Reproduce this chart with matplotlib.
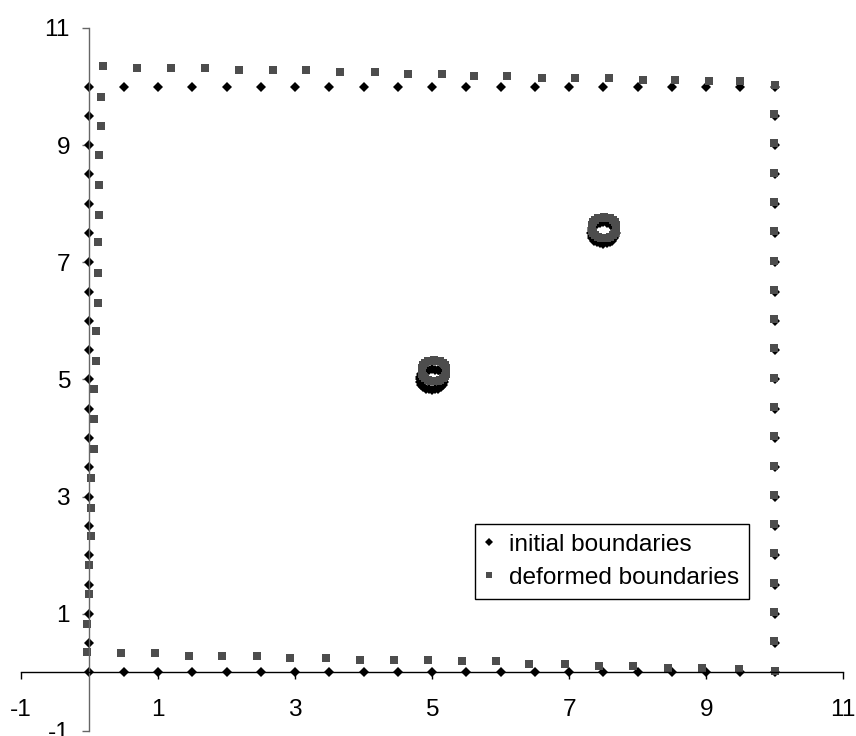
import matplotlib
matplotlib.use("Agg")
import matplotlib.pyplot as plt
import numpy as np

plt.rcParams['font.family'] = ['Liberation Sans', 'DejaVu Sans']

# initial boundaries: square 0..10 sampled every 0.5
init_left_y = [0, 0.5, 1, 1.5, 2, 2.5, 3, 3.5, 4, 4.5, 5, 5.5, 6, 6.5, 7, 7.5, 8, 8.5, 9, 9.5, 10]
init_top_x = [0.5, 1, 1.5, 2, 2.5, 3, 3.5, 4, 4.5, 5, 5.5, 6, 6.5, 7, 7.5, 8, 8.5, 9, 9.5, 10]
init_right_y = [0.5, 1, 1.5, 2, 2.5, 3, 3.5, 4, 4.5, 5, 5.5, 6, 6.5, 7, 7.5, 8, 8.5, 9, 9.5]
init_bottom_x = [0.5, 1, 1.5, 2, 2.5, 3, 3.5, 4, 4.5, 5, 5.5, 6, 6.5, 7, 7.5, 8, 8.5, 9, 9.5, 10]

# deformed boundaries
def_left_x = [-0.03, -0.03, 0.0, 0.0, 0.02, 0.02, 0.02, 0.06, 0.06, 0.06, 0.09,
              0.09, 0.12, 0.12, 0.12, 0.14, 0.14, 0.14, 0.17, 0.17, 0.20]
def_left_y = [0.35, 0.83, 1.34, 1.83, 2.33, 2.81, 3.32, 3.81, 4.32, 4.83, 5.32,
              5.83, 6.31, 6.81, 7.34, 7.81, 8.32, 8.84, 9.32, 9.83, 10.35]
def_top_x = [0.69, 1.19, 1.68, 2.18, 2.68, 3.16, 3.66, 4.16, 4.65, 5.14,
             5.61, 6.10, 6.60, 7.09, 7.58, 8.08, 8.54, 9.04, 9.50, 10.0]
def_top_y = [10.31, 10.31, 10.31, 10.28, 10.28, 10.28, 10.25, 10.25, 10.21, 10.21,
             10.18, 10.18, 10.14, 10.14, 10.14, 10.11, 10.12, 10.09, 10.09, 10.03]
def_right_x = 9.99
def_right_y = [0.53, 1.03, 1.53, 2.03, 2.53, 3.03, 3.53, 4.03, 4.53, 5.03,
               5.53, 6.03, 6.53, 7.03, 7.53, 8.03, 8.53, 9.03, 9.53]
def_bottom_x = [0.46, 0.95, 1.45, 1.94, 2.44, 2.93, 3.45, 3.95, 4.45, 4.94,
                5.43, 5.93, 6.42, 6.94, 7.44, 7.93, 8.45, 8.94, 9.48, 10.0]
def_bottom_y = [0.33, 0.33, 0.28, 0.28, 0.28, 0.25, 0.25, 0.22, 0.22, 0.22,
                0.19, 0.19, 0.15, 0.15, 0.11, 0.11, 0.08, 0.08, 0.05, 0.02]

# inclusions: ring of points around each centre
ring_dx = [0.18, 0.17, 0.16, 0.13, 0.09, 0.05, 0.0, -0.05, -0.09, -0.13, -0.16, -0.17,
           -0.18, -0.17, -0.16, -0.13, -0.09, -0.05, 0.0, 0.05, 0.09, 0.13, 0.16, 0.17]
ring_dy = [0.0, 0.05, 0.09, 0.13, 0.16, 0.17, 0.18, 0.17, 0.16, 0.13, 0.09, 0.05,
           0.0, -0.05, -0.09, -0.13, -0.16, -0.17, -0.18, -0.17, -0.16, -0.13, -0.09, -0.05]
init_centres = [(5.0, 5.0), (7.5, 7.5)]
def_centres = [(5.03, 5.15), (7.51, 7.59)]

ticks = [-1, 1, 3, 5, 7, 9, 11]


def collect(left_x, left_y, top_x, top_y, right_x, right_y, bottom_x, bottom_y, centres):
    xs = list(np.broadcast_to(left_x, len(left_y))) + list(top_x) \
        + list(np.broadcast_to(right_x, len(right_y))) + list(bottom_x)
    ys = list(left_y) + list(np.broadcast_to(top_y, len(top_x))) \
        + list(right_y) + list(np.broadcast_to(bottom_y, len(bottom_x)))
    for cx, cy in centres:
        xs += [cx + d for d in ring_dx]
        ys += [cy + d for d in ring_dy]
    return xs, ys


ix, iy = collect(0.0, init_left_y, init_top_x, 10.0, 10.0, init_right_y, init_bottom_x, 0.0, init_centres)
dx, dy = collect(def_left_x, def_left_y, def_top_x, def_top_y, def_right_x, def_right_y,
                 def_bottom_x, def_bottom_y, def_centres)

fig = plt.figure(figsize=(8.56, 7.36), dpi=100)
ax = fig.add_axes([0.0245, 0.0068, 0.9605, 0.9552])

ax.plot(ix, iy, linestyle='none', marker='D', markersize=4.8, color='black',
        markeredgewidth=0, label='initial boundaries', clip_on=False)
ax.plot(dx, dy, linestyle='none', marker='s', markersize=5.5, color='#4d4d4d',
        markeredgewidth=0, label='deformed boundaries', clip_on=False)

ax.set_xlim(-1, 11)
ax.set_ylim(-1, 11)
ax.set_xticks(ticks)
ax.set_yticks(ticks)
ax.set_xticklabels([str(t) for t in ticks])
ax.set_yticklabels([str(t) for t in ticks])

ax.spines['left'].set_position(('data', 0))
ax.spines['bottom'].set_position(('data', 0))
ax.spines['top'].set_visible(False)
ax.spines['right'].set_visible(False)
ax.spines['left'].set_color('#666666')
ax.spines['bottom'].set_color('black')
ax.spines['left'].set_linewidth(1)
ax.spines['bottom'].set_linewidth(1)

ax.tick_params(axis='x', direction='out', length=5, width=1, color='black',
               labelsize=17.6, pad=14)
ax.tick_params(axis='y', direction='out', length=5, width=1, color='#666666',
               labelsize=17.6, pad=9)

leg = ax.legend(loc='upper left', bbox_to_anchor=(0.552, 0.2945), borderaxespad=0,
                fontsize=17.6, handlelength=0.4, handletextpad=0.6, borderpad=0.4,
                labelspacing=0.45, fancybox=False, framealpha=1, markerscale=0.8)
leg.get_frame().set_edgecolor('black')
leg.get_frame().set_linewidth(1)

fig.savefig('out.png', dpi=100)
